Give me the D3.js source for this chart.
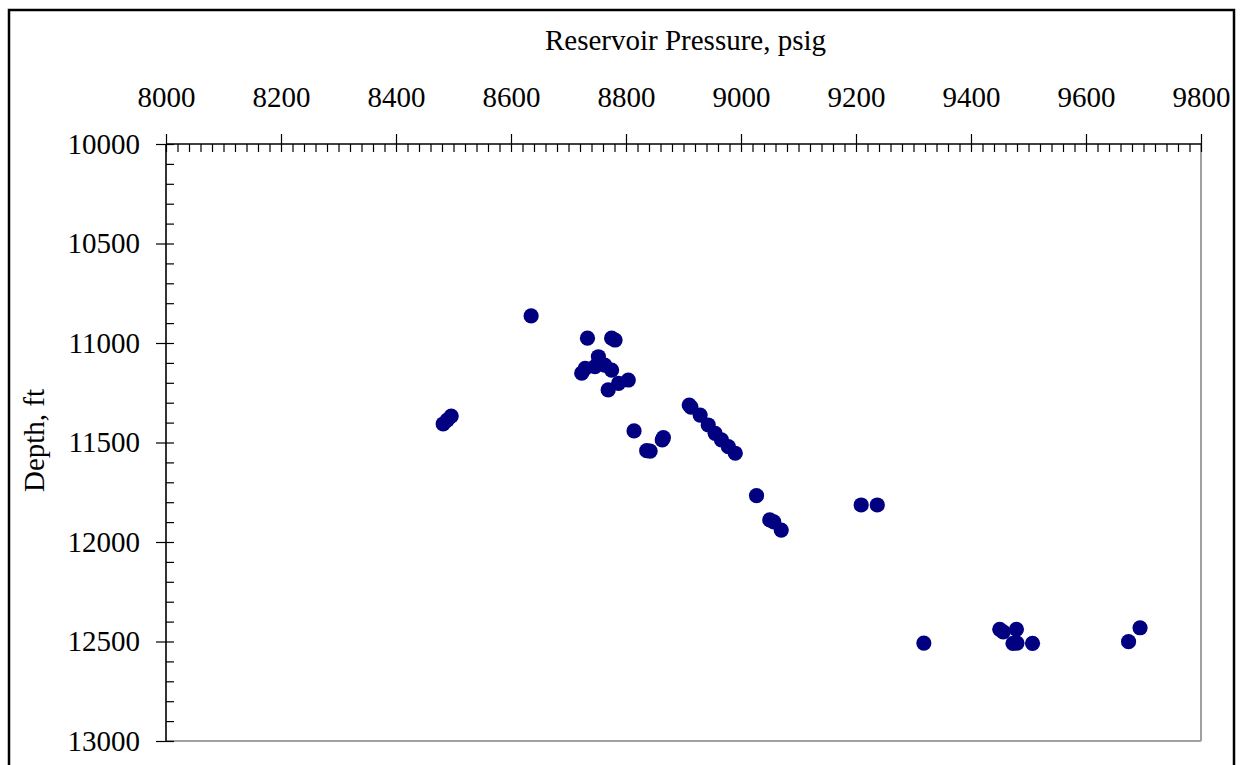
<!DOCTYPE html>
<html>
<head>
<meta charset="utf-8">
<script src="https://cdn.jsdelivr.net/npm/d3@7"></script>
<style>
  html, body { margin: 0; padding: 0; background: #fff; }
  svg { display: block; }
  text { font-family: "Liberation Serif", "Times New Roman", serif; fill: #000; }
</style>
</head>
<body>
<svg id="chart" width="1242" height="765"></svg>
<script>
// Reservoir pressure survey: pressure (psig) against depth (ft)
const pressure = [
  8482, 8489, 8496,
  8635,
  8733, 8775, 8781,
  8752, 8729, 8723, 8746, 8763, 8775, 8769, 8804, 8787,
  8814, 8836, 8842, 8865, 8863,
  8910, 8913, 8929, 8943, 8955, 8966, 8978, 8990,
  9027, 9050, 9057, 9070,
  9209, 9237,
  9318,
  9450, 9456, 9479, 9473, 9480, 9507,
  9674, 9694
];
const depth = [
  11407, 11387, 11367,
  10864,
  10976, 10976, 10985,
  11069, 11127, 11152, 11119, 11111, 11136, 11236, 11186, 11203,
  11442, 11541, 11543, 11476, 11487,
  11312, 11322, 11362, 11412, 11454, 11487, 11521, 11554,
  11767, 11889, 11899, 11940,
  11814, 11814,
  12508,
  12439, 12452, 12439, 12509, 12508, 12509,
  12501, 12431
];

const xMajor = d3.range(8000, 9801, 200);
const xMinor = d3.range(8000, 9801, 20);
const yMajor = d3.range(10000, 13001, 500);
const yMinor = d3.range(10000, 13001, 100);

const xTitle = "Reservoir Pressure, psig";
const yTitle = "Depth, ft";

const svg = d3.select("#chart");
const plotL = 166, plotR = 1201, plotT = 144, plotB = 741;

const x = d3.scaleLinear().domain([8000, 9800]).range([plotL, plotR]);
const y = d3.scaleLinear().domain([10000, 13000]).range([plotT, plotB]);

// outer frame (bottom edge runs off the canvas)
svg.append("rect")
  .attr("x", 9).attr("y", 10)
  .attr("width", 1225).attr("height", 800)
  .attr("fill", "none").attr("stroke", "#000").attr("stroke-width", 2.5);

// plot area: right and bottom edges in grey
svg.append("line")
  .attr("x1", x(9800)).attr("x2", x(9800)).attr("y1", y(10000)).attr("y2", y(13000))
  .attr("stroke", "#a0a0a0").attr("stroke-width", 2);
svg.append("line")
  .attr("x1", x(8000)).attr("x2", x(9800)).attr("y1", y(13000)).attr("y2", y(13000))
  .attr("stroke", "#a0a0a0").attr("stroke-width", 2);

// top axis: majors outward with labels, minors inward
const topMajor = svg.append("g").attr("transform", `translate(0,${plotT})`)
  .call(d3.axisTop(x).tickValues(xMajor).tickSize(10).tickPadding(27).tickFormat(d3.format("d")));
const topMinor = svg.append("g").attr("transform", `translate(0,${plotT})`)
  .call(d3.axisBottom(x).tickValues(xMinor).tickSize(8).tickFormat(""));

// left axis: majors outward with labels, minors inward
const leftMajor = svg.append("g").attr("transform", `translate(${plotL},0)`)
  .call(d3.axisLeft(y).tickValues(yMajor).tickSize(10).tickPadding(16).tickFormat(d3.format("d")));
const leftMinor = svg.append("g").attr("transform", `translate(${plotL},0)`)
  .call(d3.axisRight(y).tickValues(yMinor).tickSize(8).tickFormat(""));

[topMajor, topMinor, leftMajor, leftMinor].forEach(g => {
  g.select(".domain").remove();
  g.selectAll(".tick line").attr("stroke", "#000").attr("stroke-width", 1.2);
  g.selectAll("text").attr("font-size", 29).attr("font-family", "Liberation Serif, serif").attr("fill", "#000");
});

// axis lines
svg.append("line")
  .attr("x1", x(8000)).attr("x2", x(9800)).attr("y1", plotT).attr("y2", plotT)
  .attr("stroke", "#000").attr("stroke-width", 1.6);
svg.append("line")
  .attr("x1", plotL).attr("x2", plotL).attr("y1", plotT).attr("y2", plotB)
  .attr("stroke", "#000").attr("stroke-width", 1.6);

// axis titles
svg.append("text")
  .attr("x", (plotL + plotR) / 2 + 2).attr("y", 50)
  .attr("text-anchor", "middle").attr("font-size", 29)
  .text(xTitle);
svg.append("text")
  .attr("transform", `translate(44,${(plotT + plotB) / 2 - 2}) rotate(-90)`)
  .attr("text-anchor", "middle").attr("font-size", 29)
  .text(yTitle);

// data points
svg.append("g").selectAll("circle")
  .data(d3.zip(pressure, depth))
  .join("circle")
  .attr("cx", d => x(d[0]))
  .attr("cy", d => y(d[1]))
  .attr("r", 7.6)
  .attr("fill", "#000080");
</script>
</body>
</html>
